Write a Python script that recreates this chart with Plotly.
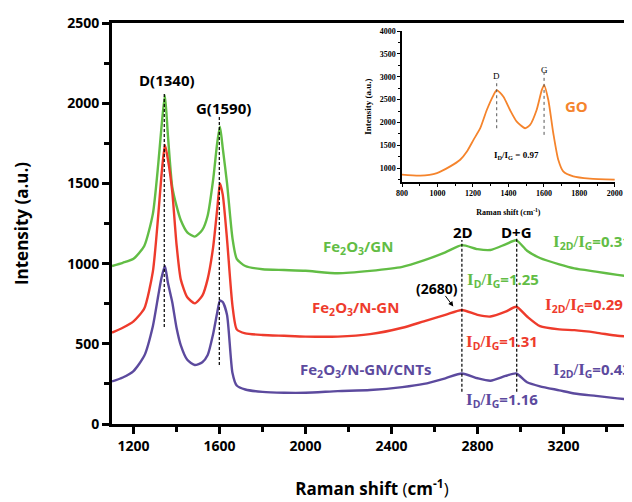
import plotly.graph_objects as go

# ---------------- data ----------------
raman_x = [1100, 1150, 1200, 1250, 1290, 1315, 1330, 1346, 1360, 1380, 1400, 1420, 1450, 1485,
           1520, 1545, 1570, 1590, 1602, 1615, 1635, 1660, 1680, 1720, 1800, 1900, 2000, 2150,
           2300, 2450, 2550, 2650, 2727, 2800, 2860, 2930, 2980, 3030, 3090, 3180, 3250, 3350,
           3450, 3518]
fe2o3_gn = [985, 1005, 1030, 1110, 1310, 1620, 1850, 2050, 1800, 1480, 1360, 1270, 1195, 1168,
            1210, 1300, 1520, 1760, 1853, 1720, 1500, 1160, 1030, 985, 965, 960, 955, 940,
            955, 980, 1020, 1070, 1115, 1090, 1085, 1120, 1145, 1080, 1035, 995, 970, 950,
            930, 918]
fe2o3_ngn = [570, 600, 640, 720, 950, 1300, 1550, 1739, 1650, 1450, 1120, 900, 790, 752,
             800, 905, 1100, 1350, 1500, 1430, 1150, 740, 590, 565, 555, 550, 545, 545,
             560, 600, 640, 680, 711, 680, 670, 700, 731, 670, 610, 590, 585, 570,
             550, 544]
fe2o3_ngn_cnts = [265, 290, 330, 425, 610, 800, 910, 985, 880, 760, 600, 490, 400, 368,
                  385, 430, 560, 700, 770, 760, 680, 320, 240, 215, 200, 195, 195, 205,
                  212, 230, 250, 285, 315, 285, 270, 300, 315, 260, 235, 210, 190, 175,
                  160, 150]

go_x = [800, 903, 997, 1072, 1128, 1166, 1203, 1241, 1278, 1316, 1334, 1372, 1409, 1447,
        1494, 1522, 1559, 1588, 1601, 1625, 1653, 1681, 1709, 1766, 1859, 2000]
go_y = [860, 838, 896, 1041, 1186, 1367, 1621, 1875, 2274, 2600, 2709, 2564, 2274, 2020,
        1875, 1947, 2274, 2709, 2818, 2491, 1766, 1186, 932, 823, 773, 751]

series_names = ["Fe<sub>2</sub>O<sub>3</sub>/GN", "Fe<sub>2</sub>O<sub>3</sub>/N-GN",
                "Fe<sub>2</sub>O<sub>3</sub>/N-GN/CNTs"]
id_ig = ["1.25", "1.31", "1.16"]
i2d_ig = ["0.31", "0.29", "0.43"]
x_ticks = [1200, 1600, 2000, 2400, 2800, 3200]
y_ticks = [0, 500, 1000, 1500, 2000, 2500]
inset_x_ticks = [800, 1000, 1200, 1400, 1600, 1800, 2000]
inset_y_ticks = [1000, 1500, 2000, 2500, 3000, 3500, 4000]

GREEN = "#62BD45"
RED = "#EE3B2C"
PURPLE = "#5C4A9E"
ORANGE = "#F5842C"
SANS = "Open Sans"
SERIF = "Liberation Serif"

fig = go.Figure()
for ys, col in zip([fe2o3_gn, fe2o3_ngn, fe2o3_ngn_cnts], [GREEN, RED, PURPLE]):
    fig.add_trace(go.Scatter(x=raman_x, y=ys, mode="lines",
                             line=dict(color=col, width=2.4, shape="spline", smoothing=0.6),
                             showlegend=False, hoverinfo="skip"))

fig.add_trace(go.Scatter(x=go_x, y=go_y, mode="lines",
                         line=dict(color=ORANGE, width=1.8, shape="spline", smoothing=0.6),
                         xaxis="x2", yaxis="y2", showlegend=False, hoverinfo="skip"))

# dashed peak lines in main plot
for x0, y0, y1 in [(1343, 605, 2060), (1599, 368, 1926), (2727, 201, 1147), (2982, 201, 1168)]:
    fig.add_shape(type="line", x0=x0, x1=x0, y0=y0, y1=y1, xref="x", yref="y",
                  line=dict(color="black", width=1.2, dash="3px,2px"))
# dotted lines in inset
for x0, y0, y1 in [(1334, 1875, 2927), (1601, 1730, 3108)]:
    fig.add_shape(type="line", x0=x0, x1=x0, y0=y0, y1=y1, xref="x2", yref="y2",
                  line=dict(color="#555555", width=1, dash="dot"))

def ann(x, y, text, color, size, family=SANS, xref="x", yref="y", **kw):
    fig.add_annotation(x=x, y=y, text=text, xref=xref, yref=yref, showarrow=False,
                       font=dict(color=color, size=size, family=family), **kw)

ann(1354, 2145, "<b>D(1340)</b>", "black", 15)
ann(1618, 1968, "<b>G(1590)</b>", "black", 15)
ann(2734, 1199, "<b>2D</b>", "black", 15)
ann(2982, 1199, "<b>D+G</b>", "black", 15)
ann(2610, 846, "<b>(2680)</b>", "black", 14)
fig.add_annotation(x=2687, y=732, ax=2645, ay=808, xref="x", yref="y", axref="x", ayref="y",
                   showarrow=True, arrowhead=2, arrowsize=1, arrowwidth=1, arrowcolor="black",
                   text="")

ann(2246, 1105, "<b>" + series_names[0] + "</b>", GREEN, 15)
ann(2230, 721, "<b>" + series_names[1] + "</b>", RED, 15)
ann(2277, 337, "<b>" + series_names[2] + "</b>", PURPLE, 15)

def ratio(top, val):
    s = "<span style=\"font-family:'Liberation Serif',serif;font-size:17px\">%s</span>"
    return "<b>" + s % "I" + "<sub>" + top + "</sub>" + s % "/I" + "<sub>G</sub>=" + val + "</b>"

ann(2920, 898, ratio("D", id_ig[0]), GREEN, 15)
ann(2912, 513, ratio("D", id_ig[1]), RED, 15)
ann(2912, 150, ratio("D", id_ig[2]), PURPLE, 15)
ann(3330, 1137, ratio("2D", i2d_ig[0]), GREEN, 15)
ann(3293, 742, ratio("2D", i2d_ig[1]), RED, 15)
ann(3330, 337, ratio("2D", i2d_ig[2]), PURPLE, 15)

# inset annotations
ann(1334, 3014, "D", "black", 9, family=SERIF, xref="x2", yref="y2")
ann(1601, 3159, "G", "black", 9, family=SERIF, xref="x2", yref="y2")
ann(1786, 2360, "<b>GO</b>", ORANGE, 15, xref="x2", yref="y2")
ann(1448, 1290, "<b>I<sub>D</sub>/I<sub>G</sub> = 0.97</b>", "black", 9, family=SERIF,
    xref="x2", yref="y2")

# The page body keeps its default 8 px margin, so the figure is 8 px smaller
# than the 632x502 window and sits at (8, 8).
fig.update_layout(
    width=624, height=494,
    margin=dict(l=104, r=0, t=15, b=78, autoexpand=False),
    paper_bgcolor="white", plot_bgcolor="white",
    font=dict(family=SANS, color="black"),
    xaxis=dict(
        range=[1100, 3518], tickmode="array", tickvals=x_ticks,
        ticktext=["<b>%d</b>" % v for v in x_ticks], automargin=False,
        ticks="outside", ticklen=7, tickwidth=2.5, tickcolor="black",
        minor=dict(dtick=200, tick0=1200, ticks="outside", ticklen=5, tickwidth=2.5, tickcolor="black"),
        showline=True, linewidth=3, linecolor="black", mirror=True,
        showgrid=False, zeroline=False, tickfont=dict(size=14),
        title=dict(text="<b>Raman shift </b>(<b>cm<sup>-1</sup></b>)", font=dict(size=17), standoff=30),
    ),
    yaxis=dict(
        range=[0, 2500], tickmode="array", tickvals=y_ticks,
        ticktext=["<b>%d</b>" % v for v in y_ticks], automargin=False,
        ticks="outside", ticklen=7, tickwidth=2.5, tickcolor="black",
        minor=dict(dtick=250, tick0=0, ticks="outside", ticklen=5, tickwidth=2.5, tickcolor="black"),
        showline=True, linewidth=3, linecolor="black",
        showgrid=False, zeroline=False, tickfont=dict(size=14),
        title=dict(text="<b>Intensity (a.u.)</b>", font=dict(size=17), standoff=35),
    ),
    xaxis2=dict(
        domain=[0.5577, 0.967], anchor="y2", range=[800, 2000], automargin=False,
        tickmode="array", tickvals=inset_x_ticks,
        ticktext=["<b>%d</b>" % v for v in inset_x_ticks],
        ticks="outside", ticklen=3, tickwidth=1, tickcolor="black",
        minor=dict(dtick=100, tick0=800, ticks="outside", ticklen=2, tickwidth=1, tickcolor="black"),
        showline=True, linewidth=1.5, linecolor="black", showgrid=False, zeroline=False,
        tickfont=dict(size=8, family=SERIF),
        title=dict(text="<b>Raman shift (cm<sup>-1</sup>)</b>", font=dict(size=8, family=SERIF), standoff=12),
    ),
    yaxis2=dict(
        domain=[0.6035, 0.980], anchor="x2", range=[700, 4000], automargin=False,
        tickmode="array", tickvals=inset_y_ticks,
        ticktext=["<b>%d</b>" % v for v in inset_y_ticks],
        ticks="outside", ticklen=3, tickwidth=1, tickcolor="black",
        minor=dict(dtick=250, tick0=1000, ticks="outside", ticklen=2, tickwidth=1, tickcolor="black"),
        showline=True, linewidth=1.5, linecolor="black", showgrid=False, zeroline=False,
        tickfont=dict(size=8, family=SERIF),
        title=dict(text="<b>Intensity (a.u.)</b>", font=dict(size=9, family=SERIF), standoff=6),
    ),
)

fig.write_html("out.html")
